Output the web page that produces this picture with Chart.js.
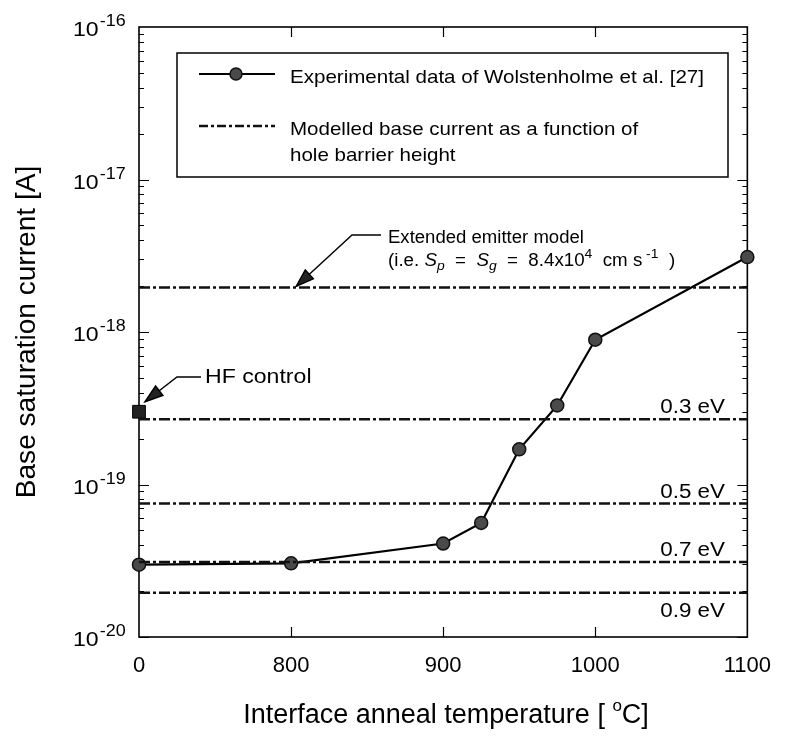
<!DOCTYPE html>
<html>
<head>
<meta charset="utf-8">
<title>Base saturation current vs interface anneal temperature</title>
<script src="https://cdn.jsdelivr.net/npm/chart.js@4.4.1/dist/chart.umd.min.js"></script>
<style>
  html, body { margin: 0; padding: 0; background: #fff; }
  canvas { display: block; }
</style>
</head>
<body>
<canvas id="chart" width="787" height="741"></canvas>
<script>
  // anneal temperature in °C; 0 means no anneal and sits at the axis break
  const annealTemps = [0, 800, 900, 925, 950, 975, 1000, 1100];
  const baseCurrent = [2.98e-20, 3.04e-20, 4.1e-20, 5.6e-20, 1.7e-19, 3.3e-19, 8.9e-19, 3.1e-18];

  // modelled base current for several hole barrier heights
  const barrierLabels = ["0.3 eV", "0.5 eV", "0.7 eV", "0.9 eV"];
  const barrierCurrent = [2.68e-19, 7.5e-20, 3.1e-20, 1.95e-20];

  const extendedEmitterCurrent = 1.96e-18;
  const hfControlCurrent = 3.0e-19;

  const xTickValues = [0, 800, 900, 1000, 1100];
  const yDecades = [-20, -19, -18, -17, -16];

  const AXIS_BREAK = 700;
  const FONT = '"Liberation Sans", Arial, Helvetica, sans-serif';
  const DASH_DOT = [11, 3, 3, 3];

  function toAxis(t) {
    return t === 0 ? AXIS_BREAK : t;
  }

  function flatLine(y) {
    return [{ x: toAxis(xTickValues[0]), y: y }, { x: toAxis(xTickValues[xTickValues.length - 1]), y: y }];
  }

  // text pieces drawn one after another, with optional italic / raised / lowered parts
  function runsWidth(ctx, parts, sx) {
    let w = 0;
    parts.forEach(function (p) {
      ctx.font = (p.italic ? "italic " : "") + p.size + "px " + FONT;
      w += ctx.measureText(p.t).width * sx;
    });
    return w;
  }

  function drawRuns(ctx, parts, x, y, sx) {
    let cx = x;
    parts.forEach(function (p) {
      ctx.save();
      ctx.font = (p.italic ? "italic " : "") + p.size + "px " + FONT;
      ctx.textAlign = "left";
      ctx.textBaseline = "alphabetic";
      ctx.fillStyle = "#000";
      ctx.translate(cx, y + (p.dy || 0));
      ctx.scale(sx, 1);
      ctx.fillText(p.t, 0, 0);
      cx += ctx.measureText(p.t).width * sx;
      ctx.restore();
    });
    return cx;
  }

  function arrow(ctx, pts) {
    ctx.save();
    ctx.strokeStyle = "#000";
    ctx.lineWidth = 1.4;
    ctx.beginPath();
    ctx.moveTo(pts[0][0], pts[0][1]);
    for (let i = 1; i < pts.length; i++) ctx.lineTo(pts[i][0], pts[i][1]);
    ctx.stroke();
    const tip = pts[pts.length - 1];
    const prev = pts[pts.length - 2];
    const ang = Math.atan2(tip[1] - prev[1], tip[0] - prev[0]);
    ctx.translate(tip[0], tip[1]);
    ctx.rotate(ang);
    ctx.beginPath();
    ctx.moveTo(0, 0);
    ctx.lineTo(-18, -6);
    ctx.lineTo(-18, 6);
    ctx.closePath();
    ctx.fillStyle = "#222";
    ctx.fill();
    ctx.stroke();
    ctx.restore();
  }

  const frameAndTicks = {
    id: "frameAndTicks",
    beforeDatasetsDraw: function (chart) {
      const ctx = chart.ctx;
      const a = chart.chartArea;
      const xs = chart.scales.x;
      const ys = chart.scales.y;
      ctx.save();
      ctx.strokeStyle = "#000";
      ctx.lineWidth = 1.6;
      ctx.strokeRect(a.left, a.top, a.right - a.left, a.bottom - a.top);
      ctx.lineWidth = 1.2;
      ctx.beginPath();
      yDecades.slice(0, -1).forEach(function (d) {
        for (let m = 1; m <= 9; m++) {
          const py = Math.round(ys.getPixelForValue(m * Math.pow(10, d))) + 0.5;
          const len = m === 1 ? 10 : 5;
          ctx.moveTo(a.left, py); ctx.lineTo(a.left + len, py);
          ctx.moveTo(a.right, py); ctx.lineTo(a.right - len, py);
        }
      });
      xTickValues.slice(1, -1).forEach(function (t) {
        const px = Math.round(xs.getPixelForValue(toAxis(t))) + 0.5;
        ctx.moveTo(px, a.bottom); ctx.lineTo(px, a.bottom - 10);
        ctx.moveTo(px, a.top); ctx.lineTo(px, a.top + 10);
      });
      ctx.stroke();
      ctx.restore();
    },
    afterDraw: function (chart) {
      const ctx = chart.ctx;
      const a = chart.chartArea;
      const xs = chart.scales.x;
      const ys = chart.scales.y;

      // y tick labels as powers of ten
      yDecades.forEach(function (d) {
        const py = ys.getPixelForValue(Math.pow(10, d));
        const x = drawRuns(ctx, [{ t: "10", size: 21 }], 73, py + 9, 1.1);
        drawRuns(ctx, [{ t: "-" + Math.abs(d), size: 16 }], x + 1, py - 1, 1.12);
      });

      // axis titles
      ctx.save();
      ctx.translate(35, (a.top + a.bottom) / 2);
      ctx.rotate(-Math.PI / 2);
      ctx.scale(1.04, 1);
      ctx.font = "27px " + FONT;
      ctx.fillStyle = "#000";
      ctx.textAlign = "center";
      ctx.fillText("Base saturation current [A]", 0, 0);
      ctx.restore();

      const xTitle = [{ t: "Interface anneal temperature [ ", size: 27 }, { t: "o", size: 17, dy: -12 }, { t: "C]", size: 27 }];
      const xtw = runsWidth(ctx, xTitle, 1.0);
      drawRuns(ctx, xTitle, 446 - xtw / 2, 723, 1.0);

      // legend
      ctx.save();
      ctx.strokeStyle = "#000";
      ctx.lineWidth = 1.5;
      ctx.strokeRect(177, 53, 551, 124);
      ctx.lineWidth = 2.2;
      ctx.beginPath();
      ctx.moveTo(199, 74); ctx.lineTo(275, 74);
      ctx.stroke();
      ctx.beginPath();
      ctx.arc(236, 74, 6, 0, Math.PI * 2);
      ctx.fillStyle = "#4a4a4a";
      ctx.fill();
      ctx.lineWidth = 1.5;
      ctx.strokeStyle = "#111";
      ctx.stroke();
      ctx.setLineDash([9, 3, 3, 3]);
      ctx.lineWidth = 2.4;
      ctx.beginPath();
      ctx.moveTo(199, 126); ctx.lineTo(275, 126);
      ctx.stroke();
      ctx.restore();
      drawRuns(ctx, [{ t: "Experimental data of Wolstenholme et al. [27]", size: 18.5 }], 290, 83, 1.11);
      drawRuns(ctx, [{ t: "Modelled base current as a function of", size: 18.5 }], 290, 135, 1.11);
      drawRuns(ctx, [{ t: "hole barrier height", size: 18.5 }], 290, 161, 1.11);

      // extended emitter annotation
      const exX = xs.getPixelForValue(toAxis(800)) + 5;
      const exY = ys.getPixelForValue(extendedEmitterCurrent) - 1;
      arrow(ctx, [[381, 235], [352, 235], [exX, exY]]);
      drawRuns(ctx, [{ t: "Extended emitter model", size: 17.5 }], 388, 243, 1.06);
      drawRuns(ctx, [
        { t: "(i.e. ", size: 17.5 },
        { t: "S", size: 17.5, italic: true },
        { t: "p", size: 13, italic: true, dy: 4 },
        { t: "  =  ", size: 17.5 },
        { t: "S", size: 17.5, italic: true },
        { t: "g", size: 13, italic: true, dy: 4 },
        { t: "  =  8.4x10", size: 17.5 },
        { t: "4", size: 13, dy: -8 },
        { t: "  cm s", size: 17.5 },
        { t: " -1", size: 13, dy: -8 },
        { t: "  )", size: 17.5 }
      ], 388, 266, 1.07);

      // HF control annotation
      const hfX = xs.getPixelForValue(toAxis(0)) + 6;
      const hfY = ys.getPixelForValue(hfControlCurrent) - 10;
      arrow(ctx, [[201, 377], [177, 377], [hfX, hfY]]);
      drawRuns(ctx, [{ t: "HF control", size: 21 }], 205, 383, 1.1);

      // barrier height labels next to their lines
      barrierLabels.forEach(function (lab, i) {
        const py = ys.getPixelForValue(barrierCurrent[i]);
        const parts = [{ t: lab, size: 20 }];
        const w = runsWidth(ctx, parts, 1.12);
        drawRuns(ctx, parts, 725 - w, i < 3 ? py - 6 : py + 24, 1.12);
      });
    }
  };

  const lineStyle = {
    borderColor: "#111",
    borderWidth: 2.4,
    borderDash: DASH_DOT,
    pointRadius: 0,
    fill: false,
    clip: false
  };

  const datasets = [];
  barrierCurrent.forEach(function (v, i) {
    datasets.push(Object.assign({ label: barrierLabels[i], data: flatLine(v) }, lineStyle));
  });
  datasets.push(Object.assign({ label: "Extended emitter model", data: flatLine(extendedEmitterCurrent) }, lineStyle));
  datasets.push({
    label: "HF control",
    data: [{ x: toAxis(0), y: hfControlCurrent }],
    showLine: false,
    pointStyle: "rect",
    pointRadius: 9,
    backgroundColor: "#222",
    borderColor: "#000",
    borderWidth: 1,
    clip: false
  });
  datasets.push({
    label: "Experimental data of Wolstenholme et al. [27]",
    data: annealTemps.map(function (t, i) { return { x: toAxis(t), y: baseCurrent[i] }; }),
    borderColor: "#000",
    borderWidth: 2.2,
    tension: 0,
    pointRadius: 6.5,
    pointBackgroundColor: "#4a4a4a",
    pointBorderColor: "#111",
    pointBorderWidth: 1.5,
    clip: false
  });

  new Chart(document.getElementById("chart"), {
    type: "line",
    data: { datasets: datasets },
    options: {
      responsive: false,
      animation: false,
      devicePixelRatio: 1,
      layout: { padding: { top: 27, right: 27, left: 0, bottom: 0 } },
      plugins: { legend: { display: false }, tooltip: { enabled: false } },
      scales: {
        x: {
          type: "linear",
          min: toAxis(xTickValues[0]),
          max: toAxis(xTickValues[xTickValues.length - 1]),
          grid: { display: false, drawTicks: false },
          border: { display: false },
          afterBuildTicks: function (scale) {
            scale.ticks = xTickValues.map(function (t) { return { value: toAxis(t) }; });
          },
          afterFit: function (scale) { scale.height = 104; },
          ticks: {
            autoSkip: false,
            maxRotation: 0,
            padding: 16,
            color: "#000",
            font: { family: FONT, size: 22 },
            callback: function (v) {
              const i = xTickValues.map(toAxis).indexOf(v);
              return i >= 0 ? String(xTickValues[i]) : "";
            }
          }
        },
        y: {
          type: "logarithmic",
          min: Math.pow(10, yDecades[0]),
          max: Math.pow(10, yDecades[yDecades.length - 1]),
          grid: { display: false, drawTicks: false },
          border: { display: false },
          ticks: { display: false },
          afterFit: function (scale) { scale.width = 139; }
        }
      }
    },
    plugins: [frameAndTicks]
  });
</script>
</body>
</html>
